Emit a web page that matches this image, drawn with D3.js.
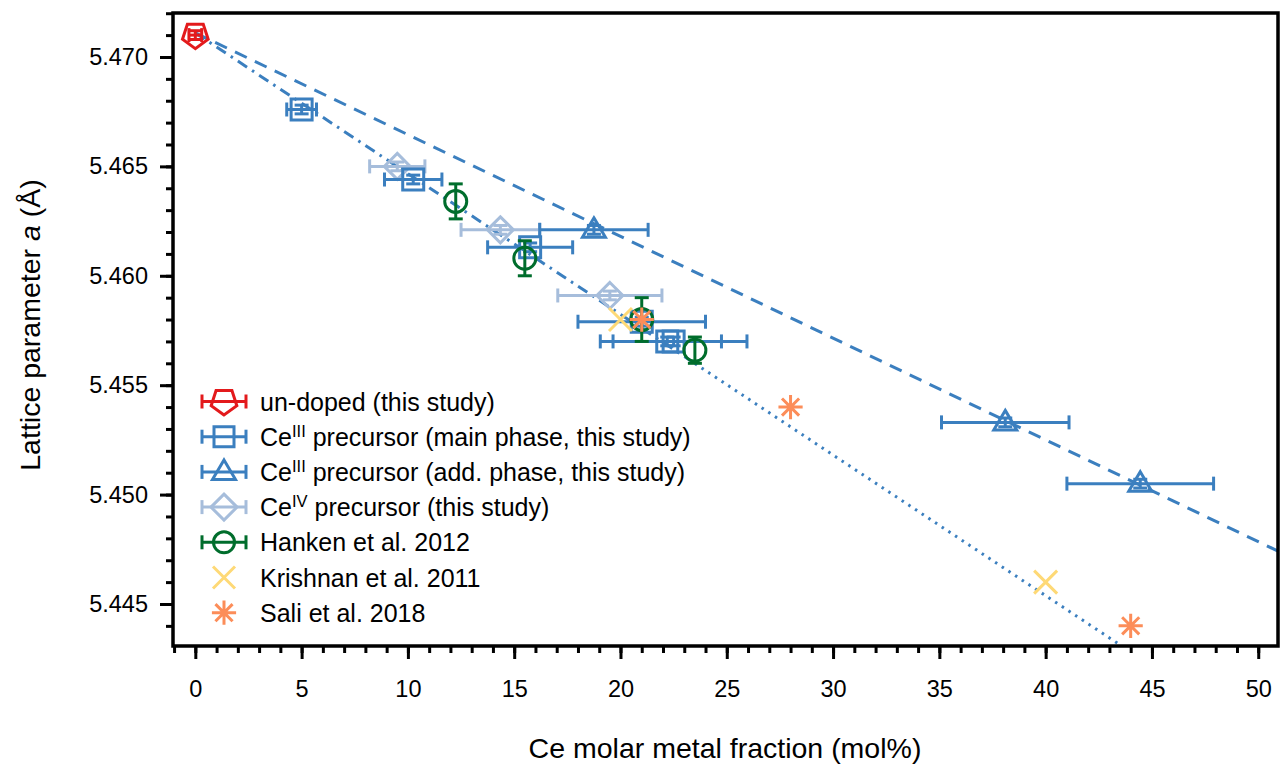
<!DOCTYPE html>
<html>
<head>
<meta charset="utf-8">
<script src="https://cdn.jsdelivr.net/npm/d3@7"></script>
<style>
  body { margin: 0; background: #fff; }
  text { font-family: "Liberation Sans", Arial, sans-serif; fill: #000; }
</style>
</head>
<body>
<svg id="chart" width="1281" height="768"></svg>
<script>
// ---- data ----
var undopedX = [0.0];
var undopedY = [5.4710];
var undopedXerr = [0.3];
var undopedYerr = [0.0002];

var ceMainX = [5.0, 10.25, 15.75, 21.0, 22.2, 22.5];
var ceMainY = [5.4676, 5.4644, 5.4613, 5.4579, 5.4570, 5.4570];
var ceMainXerr = [0.7, 1.35, 2.0, 3.0, 2.55, 3.45];
var ceMainYerr = [0.0002, 0.0002, 0.0002, 0.0002, 0.0002, 0.0002];

var ceAddX = [18.75, 38.1, 44.45];
var ceAddY = [5.4621, 5.4533, 5.4505];
var ceAddXerr = [2.55, 3.0, 3.45];
var ceAddYerr = [0.0002, 0.0002, 0.0002];

var ceIVX = [9.5, 14.35, 19.5];
var ceIVY = [5.4650, 5.4621, 5.4591];
var ceIVXerr = [1.3, 1.85, 2.45];
var ceIVYerr = [0.0002, 0.0002, 0.0002];

var hankenX = [12.25, 15.5, 21.0, 23.5];
var hankenY = [5.4634, 5.4608, 5.4580, 5.4566];
var hankenYerr = [0.0008, 0.0008, 0.0010, 0.0006];

var krishnanX = [20.0, 40.0];
var krishnanY = [5.4580, 5.4460];

var saliX = [21.0, 28.0, 44.0];
var saliY = [5.4580, 5.4540, 5.4440];

// linear trend lines: [intercept, slope]
var fitMain = [5.4711, -0.000643];
var fitAdd = [5.4711, -0.000465];
var fitMainSolidEnd = 23.5;

var xTicks = [0, 5, 10, 15, 20, 25, 30, 35, 40, 45, 50];
var yTicks = [5.445, 5.450, 5.455, 5.460, 5.465, 5.470];

// ---- layout ----
var mLeft = 173, mRight = 1278, mTop = 13, mBottom = 646;
var svg = d3.select("#chart");

var x = d3.scaleLinear().domain([-1.05, 50.93]).range([mLeft, mRight]);
var y = d3.scaleLinear().domain([5.44308, 5.47201]).range([mBottom, mTop]);

var blue = "#3b7fbf", lightBlue = "#a6bddb", red = "#e31a1c",
    green = "#006d2c", yellow = "#fed976", orange = "#fc8d59";

var plot = svg.append("g");

// trend lines
function fitVal(f, v) { return f[0] + f[1] * v; }
function fitLine(f, x0, x1) {
    return d3.line()
        .x(function (d) { return x(d); })
        .y(function (d) { return y(fitVal(f, d)); })([x0, x1]);
}
// where the main fit meets the bottom
var mainEnd = (y.domain()[0] - fitMain[0]) / fitMain[1];

plot.append("path").attr("d", fitLine(fitAdd, 0, x.domain()[1]))
    .attr("fill", "none").attr("stroke", blue).attr("stroke-width", 3)
    .attr("stroke-dasharray", "13,9");
plot.append("path").attr("d", fitLine(fitMain, 0, fitMainSolidEnd))
    .attr("fill", "none").attr("stroke", blue).attr("stroke-width", 3)
    .attr("stroke-dasharray", "11,6,2.5,6");
plot.append("path").attr("d", fitLine(fitMain, fitMainSolidEnd, mainEnd))
    .attr("fill", "none").attr("stroke", blue).attr("stroke-width", 3)
    .attr("stroke-dasharray", "2.5,5.5");

// marker shapes (centered at 0,0)
function shapePath(kind, s) {
    var p = d3.path(), i, a;
    if (kind === "square") {
        p.rect(-s, -s, 2 * s, 2 * s);
    } else if (kind === "triangle") {
        p.moveTo(0, -s * 1.2); p.lineTo(s * 1.15, s * 0.75); p.lineTo(-s * 1.15, s * 0.75); p.closePath();
    } else if (kind === "diamond") {
        p.moveTo(0, -s * 1.3); p.lineTo(s * 1.3, 0); p.lineTo(0, s * 1.3); p.lineTo(-s * 1.3, 0); p.closePath();
    } else if (kind === "pentagon") {
        for (i = 0; i < 5; i++) {
            a = Math.PI / 2 + i * 2 * Math.PI / 5;
            if (i === 0) p.moveTo(s * 1.35 * Math.cos(a), s * 1.35 * Math.sin(a));
            else p.lineTo(s * 1.35 * Math.cos(a), s * 1.35 * Math.sin(a));
        }
        p.closePath();
    } else if (kind === "circle") {
        p.arc(0, 0, s, 0, 2 * Math.PI);
    } else if (kind === "x") {
        p.moveTo(-s, -s); p.lineTo(s, s); p.moveTo(-s, s); p.lineTo(s, -s);
    } else if (kind === "asterisk") {
        for (i = 0; i < 4; i++) {
            a = i * Math.PI / 4;
            p.moveTo(-s * 1.1 * Math.cos(a), -s * 1.1 * Math.sin(a));
            p.lineTo(s * 1.1 * Math.cos(a), s * 1.1 * Math.sin(a));
        }
    }
    return p.toString();
}

function drawSeries(xs, ys, xerr, yerr, kind, color, size) {
    var g = plot.append("g");
    var cap = 7;
    xs.forEach(function (xv, i) {
        var cx = x(xv), cy = y(ys[i]);
        if (xerr) {
            var x0 = x(xv - xerr[i]), x1 = x(xv + xerr[i]);
            g.append("line").attr("x1", x0).attr("x2", x1).attr("y1", cy).attr("y2", cy)
                .attr("stroke", color).attr("stroke-width", 3);
            [x0, x1].forEach(function (c) {
                g.append("line").attr("x1", c).attr("x2", c).attr("y1", cy - cap).attr("y2", cy + cap)
                    .attr("stroke", color).attr("stroke-width", 3);
            });
        }
        if (yerr) {
            var y0 = y(ys[i] - yerr[i]), y1 = y(ys[i] + yerr[i]);
            g.append("line").attr("x1", cx).attr("x2", cx).attr("y1", y0).attr("y2", y1)
                .attr("stroke", color).attr("stroke-width", 3);
            [y0, y1].forEach(function (c) {
                g.append("line").attr("x1", cx - cap).attr("x2", cx + cap).attr("y1", c).attr("y2", c)
                    .attr("stroke", color).attr("stroke-width", 3);
            });
        }
        g.append("path").attr("d", shapePath(kind, size))
            .attr("transform", "translate(" + cx + "," + cy + ")")
            .attr("fill", "none").attr("stroke", color).attr("stroke-width", 3);
    });
}

drawSeries(undopedX, undopedY, undopedXerr, undopedYerr, "pentagon", red, 10);
drawSeries(ceIVX, ceIVY, ceIVXerr, ceIVYerr, "diamond", lightBlue, 10);
drawSeries(ceMainX, ceMainY, ceMainXerr, ceMainYerr, "square", blue, 10.5);
drawSeries(ceAddX, ceAddY, ceAddXerr, ceAddYerr, "triangle", blue, 10);
drawSeries(hankenX, hankenY, null, hankenYerr, "circle", green, 11);
drawSeries(krishnanX, krishnanY, null, null, "x", yellow, 11.5);
drawSeries(saliX, saliY, null, null, "asterisk", orange, 11);

// ---- axes ----
var xAxis = d3.axisBottom(x).tickValues(xTicks).tickSize(13).tickPadding(21)
    .tickFormat(d3.format("d"));
var xMinor = d3.axisBottom(x).tickValues(d3.range(-1, 51, 1)).tickSize(7).tickFormat("");
var yAxis = d3.axisLeft(y).tickValues(yTicks).tickSize(13).tickPadding(12)
    .tickFormat(d3.format(".3f"));
var yMinor = d3.axisLeft(y).tickValues(d3.range(5444, 5473, 1).map(function (d) { return d / 1000; }))
    .tickSize(7).tickFormat("");

function styleAxis(g) {
    g.select(".domain").remove();
    g.selectAll(".tick line").attr("stroke", "#000").attr("stroke-width", 3);
    g.selectAll(".tick text").style("font-size", "23.5px").attr("fill", "#000")
        .style("font-family", "'Liberation Sans', Arial, sans-serif");
}
svg.append("g").attr("transform", "translate(0," + mBottom + ")").call(xMinor).call(styleAxis);
svg.append("g").attr("transform", "translate(0," + mBottom + ")").call(xAxis).call(styleAxis);
svg.append("g").attr("transform", "translate(" + mLeft + ",0)").call(yMinor).call(styleAxis);
svg.append("g").attr("transform", "translate(" + mLeft + ",0)").call(yAxis).call(styleAxis);

// frame
svg.append("rect").attr("x", mLeft).attr("y", mTop).attr("width", mRight - mLeft).attr("height", mBottom - mTop)
    .attr("fill", "none").attr("stroke", "#000").attr("stroke-width", 3.5);

// axis titles
svg.append("text").attr("x", 725).attr("y", 758).attr("text-anchor", "middle")
    .style("font-size", "28.5px").text("Ce molar metal fraction (mol%)");
var yl = svg.append("text").attr("transform", "translate(40,325) rotate(-90)")
    .attr("text-anchor", "middle").style("font-size", "28.5px");
yl.append("tspan").text("Lattice parameter ");
yl.append("tspan").style("font-style", "italic").text("a");
yl.append("tspan").text(" (Å)");

// ---- legend ----
var legendItems = [
    { kind: "pentagon", color: red, bar: true, parts: [["un-doped (this study)"]] },
    { kind: "square", color: blue, bar: true, parts: [["Ce"], ["III", "sup"], [" precursor (main phase, this study)"]] },
    { kind: "triangle", color: blue, bar: true, parts: [["Ce"], ["III", "sup"], [" precursor (add. phase, this study)"]] },
    { kind: "diamond", color: lightBlue, bar: true, parts: [["Ce"], ["IV", "sup"], [" precursor (this study)"]] },
    { kind: "circle", color: green, bar: true, parts: [["Hanken et al. 2012"]] },
    { kind: "x", color: yellow, bar: false, parts: [["Krishnan et al. 2011"]] },
    { kind: "asterisk", color: orange, bar: false, parts: [["Sali et al. 2018"]] }
];
var lg = svg.append("g");
legendItems.forEach(function (it, i) {
    var cy = 401.5 + i * 35.2, cx = 224;
    if (it.bar) {
        lg.append("line").attr("x1", cx - 22).attr("x2", cx + 22).attr("y1", cy).attr("y2", cy)
            .attr("stroke", it.color).attr("stroke-width", 3);
        [cx - 22, cx + 22].forEach(function (c) {
            lg.append("line").attr("x1", c).attr("x2", c).attr("y1", cy - 7).attr("y2", cy + 7)
                .attr("stroke", it.color).attr("stroke-width", 3);
        });
    }
    lg.append("path").attr("d", shapePath(it.kind, it.kind === "circle" ? 10.5 : (it.bar ? 10 : 11)))
        .attr("transform", "translate(" + cx + "," + cy + ")")
        .attr("fill", "none").attr("stroke", it.color).attr("stroke-width", 3);
    var t = lg.append("text").attr("x", 260).attr("y", cy + 9).style("font-size", "25px");
    it.parts.forEach(function (p, k) {
        if (p[1] === "sup") {
            t.append("tspan").attr("dy", -9).style("font-size", "16.5px").text(p[0]);
        } else {
            var ts = t.append("tspan").text(p[0]);
            if (k > 0) ts.attr("dy", 9);
        }
    });
});
</script>
</body>
</html>
